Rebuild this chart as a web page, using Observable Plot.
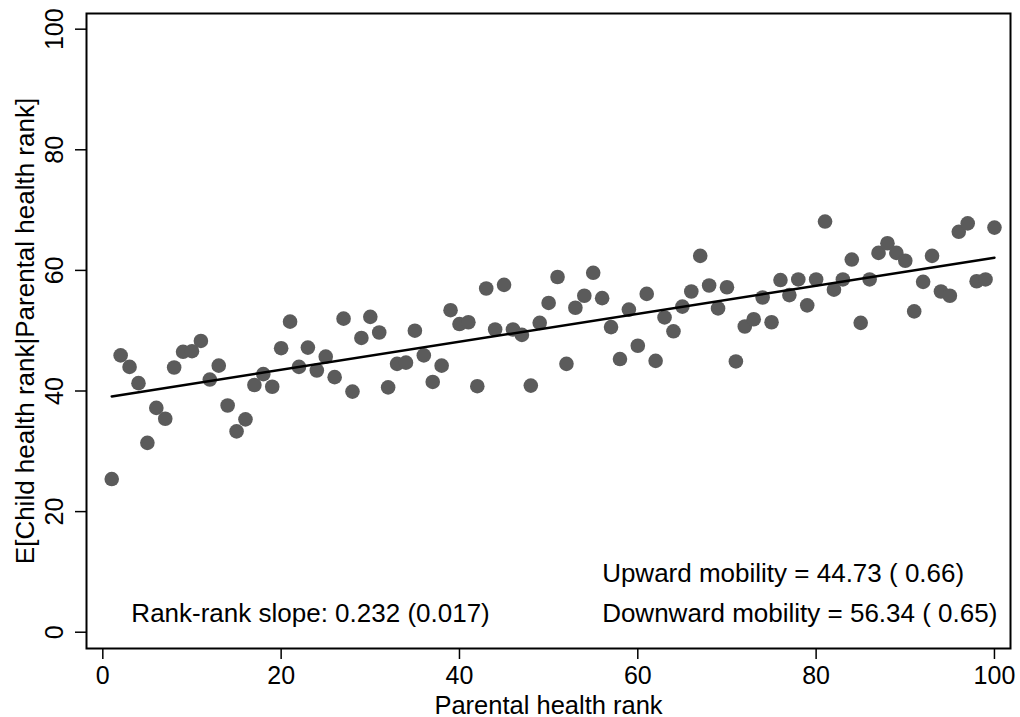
<!DOCTYPE html>
<html>
<head>
<meta charset="utf-8">
<script src="https://cdn.jsdelivr.net/npm/d3@7"></script>
<script src="https://cdn.jsdelivr.net/npm/@observablehq/plot@0.6"></script>
<style>
  html, body { margin: 0; padding: 0; background: #ffffff; }
  #chart svg { display: block; }
</style>
</head>
<body>
<div id="chart"></div>
<script>
// Parental health rank (x) and E[Child health rank | Parental health rank] (y)
const parentRank = d3.range(1, 101);
const childRank = [
  25.4, 45.9, 44.0, 41.3, 31.4, 37.2, 35.4, 43.9, 46.5, 46.6,
  48.3, 41.9, 44.2, 37.6, 33.3, 35.3, 41.0, 42.8, 40.7, 47.1,
  51.5, 44.0, 47.2, 43.4, 45.7, 42.3, 52.0, 39.9, 48.8, 52.3,
  49.7, 40.6, 44.5, 44.7, 50.0, 45.9, 41.5, 44.2, 53.4, 51.1,
  51.4, 40.8, 57.0, 50.2, 57.6, 50.2, 49.3, 40.9, 51.3, 54.6,
  58.9, 44.5, 53.8, 55.8, 59.6, 55.4, 50.6, 45.3, 53.5, 47.5,
  56.1, 45.0, 52.2, 49.9, 54.0, 56.5, 62.4, 57.5, 53.7, 57.2,
  44.9, 50.7, 51.9, 55.5, 51.4, 58.4, 55.9, 58.5, 54.2, 58.5,
  68.1, 56.8, 58.5, 61.8, 51.3, 58.5, 62.9, 64.5, 62.9, 61.6,
  53.2, 58.1, 62.4, 56.5, 55.8, 66.4, 67.8, 58.2, 58.5, 67.1
];
// Fitted rank-rank line (endpoints)
const fitX = [1, 100];
const fitY = [39.1, 62.1];
// Tick values
const xTicks = [0, 20, 40, 60, 80, 100];
const yTicks = [0, 20, 40, 60, 80, 100];
// Text
const xTitle = "Parental health rank";
const yTitle = "E[Child health rank|Parental health rank]";
const upwardText = "Upward mobility = 44.73 ( 0.66)";
const downwardText = "Downward mobility = 56.34 ( 0.65)";
const slopeText = "Rank-rank slope: 0.232 (0.017)";

const points = parentRank.map((p, i) => ({x: p, y: childRank[i]}));
const fit = fitX.map((x, i) => ({x, y: fitY[i]}));

const FONT = "'Liberation Sans', Arial, Helvetica, sans-serif";

const chart = Plot.plot({
  width: 1020,
  height: 717,
  marginLeft: 86,
  marginRight: 10,
  marginTop: 13,
  marginBottom: 69,
  style: {fontFamily: FONT, fontSize: "26px", color: "black", background: "white"},
  x: {domain: [-1.83, 101.8]},
  y: {domain: [-2.7, 102.6]},
  marks: [
    Plot.dot(points, {x: "x", y: "y", r: 7.3, fill: "#5b5b5b", stroke: "none"}),
    Plot.line(fit, {x: "x", y: "y", stroke: "black", strokeWidth: 2.5}),
    Plot.frame({stroke: "black", strokeWidth: 2}),
    Plot.axisX({ticks: xTicks, tickSize: 11, tickPadding: 7, label: null, strokeWidth: 1.5, fontSize: 25}),
    Plot.axisY({ticks: yTicks, tickSize: 11, tickPadding: 13, tickRotate: -90, label: null, strokeWidth: 1.5, fontSize: 25}),
    Plot.text([xTitle], {frameAnchor: "bottom", text: d => d, dy: 65, lineAnchor: "bottom", fill: "black", fontSize: 25.5}),
    Plot.text([yTitle], {frameAnchor: "left", text: d => d, dx: -53, rotate: -90, textAnchor: "middle", lineAnchor: "bottom", fill: "black", fontSize: 26}),
    Plot.text([upwardText], {x: () => 56.0, y: () => 8.3, text: d => d, textAnchor: "start", lineAnchor: "bottom", fill: "black", fontSize: 26}),
    Plot.text([downwardText], {x: () => 56.0, y: () => 1.77, text: d => d, textAnchor: "start", lineAnchor: "bottom", fill: "black", fontSize: 26}),
    Plot.text([slopeText], {x: () => 3.2, y: () => 1.77, text: d => d, textAnchor: "start", lineAnchor: "bottom", fill: "black", fontSize: 26})
  ]
});
document.getElementById("chart").appendChild(chart);
</script>
</body>
</html>
